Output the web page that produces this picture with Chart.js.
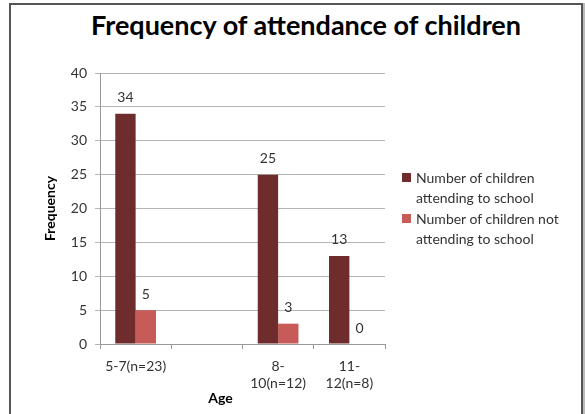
<!DOCTYPE html>
<html>
<head>
<meta charset="utf-8">
<script src="https://cdn.jsdelivr.net/npm/chart.js@4.4.1/dist/chart.umd.min.js"></script>
<style>
  html, body { margin: 0; padding: 0; background: #fff; }
  #wrap { position: relative; width: 585px; height: 414px; overflow: hidden; font-family: Lato, "Open Sans", sans-serif; }
  #frame { position: absolute; left: 9px; top: 3px; width: 570px; height: 440px; border: 2px solid #555; box-shadow: 2px 0 0 #bbb; }
  #title { position: absolute; left: 0; top: 8px; width: 612px; text-align: center; font-size: 27px; font-weight: bold; color: #000; }
  #legend { position: absolute; left: 402px; top: 168px; font-size: 14px; color: #333; line-height: 19.5px; }
  .item { position: relative; padding-left: 14px; margin-bottom: 2px; }
  .sw { position: absolute; left: 0; top: 5px; width: 9px; height: 9px; }
  canvas { position: absolute; left: 0; top: 0; }
</style>
</head>
<body>
<div id="wrap">
  <div id="frame"></div>
  <div id="title">Frequency of attendance of children</div>
  <canvas id="c" width="585" height="414"></canvas>
  <div id="legend"></div>
</div>
<script>
const chartTitle = "Frequency of attendance of children";
const categories = [["5-7(n=23)"], [""], ["8-", "10(n=12)"], ["11-", "12(n=8)"]];
const seriesNames = [["Number of children", "attending to school"], ["Number of children not", "attending to school"]];
const attending = [34, null, 25, 13];
const notAttending = [5, null, 3, 0];
const seriesColors = ["#6E2C2C", "#C65B58"];
const yTicks = [0, 5, 10, 15, 20, 25, 30, 35, 40];
const xTitle = "Age";
const yTitle = "Frequency";

document.getElementById('title').textContent = chartTitle;

const legendEl = document.getElementById('legend');
seriesNames.forEach((lines, i) => {
  const d = document.createElement('div');
  d.className = 'item';
  d.style.marginBottom = i === 0 ? '2px' : '0';
  const sw = document.createElement('span');
  sw.className = 'sw';
  sw.style.background = seriesColors[i];
  d.appendChild(sw);
  lines.forEach((t, j) => {
    const s = document.createElement('div');
    s.textContent = t;
    d.appendChild(s);
  });
  legendEl.appendChild(d);
});

const FONT = "Lato, 'Open Sans', sans-serif";

const valueLabels = {
  id: 'valueLabels',
  afterDatasetsDraw(chart) {
    const ctx = chart.ctx;
    ctx.save();
    ctx.font = "14px " + FONT;
    ctx.fillStyle = "#333";
    ctx.textAlign = "center";
    ctx.textBaseline = "middle";
    chart.data.datasets.forEach((ds, di) => {
      const meta = chart.getDatasetMeta(di);
      meta.data.forEach((el, i) => {
        const v = ds.data[i];
        if (v === null || v === undefined) return;
        ctx.fillText(String(v), el.x, el.y - 16);
      });
    });
    ctx.restore();
  }
};

const xAxisTitle = {
  id: 'xAxisTitle',
  afterDraw(chart) {
    const ctx = chart.ctx;
    const a = chart.chartArea;
    ctx.save();
    ctx.font = "bold 14px " + FONT;
    ctx.fillStyle = "#000";
    ctx.textAlign = "center";
    ctx.textBaseline = "middle";
    ctx.fillText(xTitle, (a.left + a.right) / 2 - 22, a.bottom + 54);
    ctx.restore();
  }
};

new Chart(document.getElementById('c'), {
  type: 'bar',
  data: {
    labels: categories,
    datasets: [
      { label: seriesNames[0].join(' '), data: attending, backgroundColor: seriesColors[0] },
      { label: seriesNames[1].join(' '), data: notAttending, backgroundColor: seriesColors[1] }
    ]
  },
  options: {
    responsive: false,
    animation: false,
    devicePixelRatio: 1,
    layout: { padding: { left: 40, right: 200, top: 73, bottom: 0 } },
    datasets: { bar: { categoryPercentage: 2 / 3.5, barPercentage: 1 } },
    plugins: { legend: { display: false }, title: { display: false }, tooltip: { enabled: false } },
    scales: {
      x: {
        grid: { display: true, drawOnChartArea: false, drawTicks: true, tickLength: 5, color: "#999" },
        border: { color: "#999" },
        ticks: { color: "#333", font: { family: FONT, size: 14 }, padding: 9, maxRotation: 0, autoSkip: false },
        afterFit(s) { s.height = 70; }
      },
      y: {
        min: 0, max: 40,
        afterBuildTicks(s) { s.ticks = yTicks.map(v => ({ value: v })); },
        grid: { color: "#b5b5b5", tickLength: 5 },
        border: { color: "#999" },
        ticks: { color: "#333", font: { family: FONT, size: 14 }, padding: 8 },
        title: { display: true, text: yTitle, color: "#000", font: { family: FONT, size: 14, weight: 'bold' }, padding: { top: 2, bottom: 0 } },
        afterFit(s) { s.width = 60; }
      }
    }
  },
  plugins: [valueLabels, xAxisTitle]
});
</script>
</body>
</html>
